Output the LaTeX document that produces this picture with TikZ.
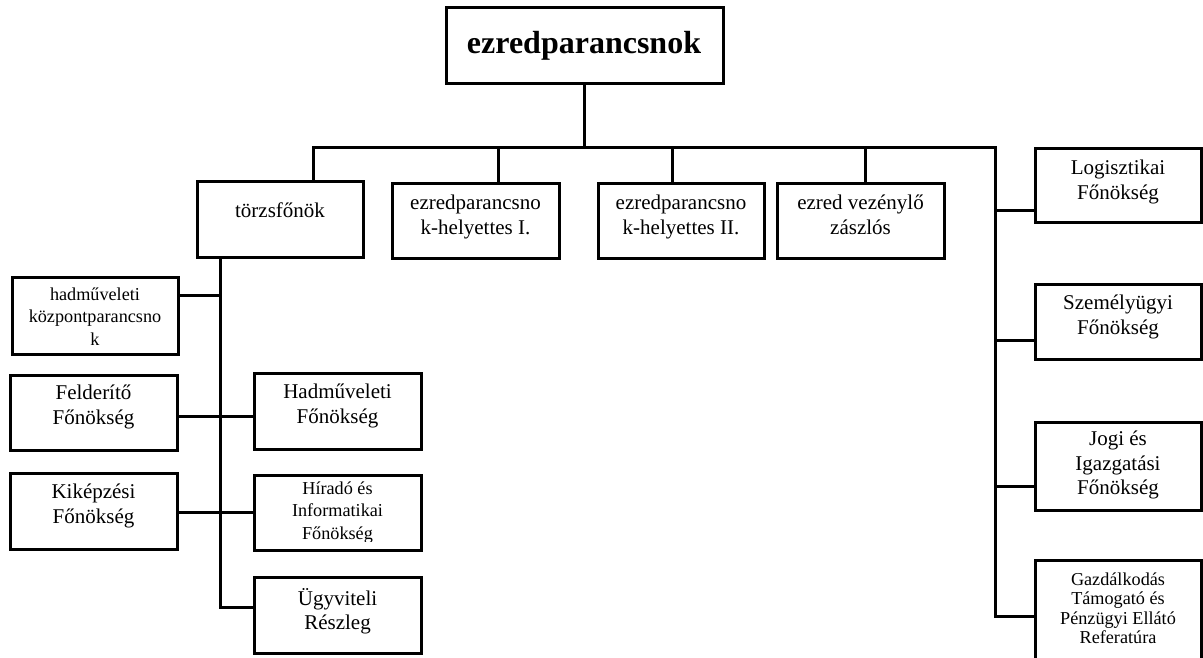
\documentclass[tikz,border=0pt]{standalone}
\usepackage{fontspec}
\setmainfont{Liberation Serif}
\begin{document}
\begin{tikzpicture}[x=1pt,y=-1pt,
  box/.style={draw, line width=3pt, inner sep=0pt, rectangle},
  conn/.style={draw, line width=3pt, line join=miter},
  txt/.style={inner sep=0pt, align=center, anchor=north, font=\fontsize{21}{24.5}\selectfont, execute at begin node=\strut},
  stxt/.style={inner sep=0pt, align=center, anchor=north, font=\fontsize{18.2}{22.5}\selectfont, execute at begin node=\strut},
  gtxt/.style={inner sep=0pt, align=center, anchor=north, font=\fontsize{18.2}{19.5}\selectfont, execute at begin node=\strut},
  onetxt/.style={inner sep=0pt, anchor=base, font=\fontsize{21}{24.5}\selectfont},
  toptxt/.style={inner sep=0pt, anchor=base, font=\fontsize{32}{38}\selectfont\bfseries}]
\useasboundingbox (0,0) rectangle (1203,657);

% boxes
\node[box, minimum width=277pt, minimum height=76pt] (top) at (584.5,45) {};
\node[box, minimum width=166pt, minimum height=76pt] (tf) at (280,219) {};
\node[box, minimum width=167pt, minimum height=75pt] (h1) at (475.5,220.5) {};
\node[box, minimum width=166pt, minimum height=75pt] (h2) at (681,220.5) {};
\node[box, minimum width=167pt, minimum height=75pt] (vz) at (860.5,220.5) {};
\node[box, minimum width=166pt, minimum height=74pt] (lg) at (1118,185) {};
\node[box, minimum width=166pt, minimum height=75pt] (sz) at (1118,321.5) {};
\node[box, minimum width=166pt, minimum height=88pt] (jg) at (1118,466) {};
\node[box, minimum width=166pt, minimum height=110pt] (gz) at (1118,615) {};
\node[box, minimum width=166pt, minimum height=77pt] (hk) at (95,315.5) {};
\node[box, minimum width=167pt, minimum height=75pt] (fd) at (93.5,412.5) {};
\node[box, minimum width=167pt, minimum height=76pt] (hf) at (337.5,411) {};
\node[box, minimum width=167pt, minimum height=76pt] (kk) at (93.5,511) {};
\node[box, minimum width=167pt, minimum height=75pt] (hi) at (337.5,512.5) {};
\node[box, minimum width=167pt, minimum height=76pt] (uv) at (337.5,615) {};

% texts
\node[toptxt] (topT) at (584,53) {ezredparancsnok};
\node[onetxt] (tfT) at (280,217) {törzsfőnök};
\node[txt] (h1T) at (475.5,194.85) {ezredparancsno\\k-helyettes I.};
\node[txt] (h2T) at (681,194.85) {ezredparancsno\\k-helyettes II.};
\node[txt] (vzT) at (860.5,194.85) {ezred vezénylő\\zászlós};
\node[txt] (lgT) at (1118,159.85) {Logisztikai\\Főnökség};
\node[txt] (szT) at (1118,294.85) {Személyügyi\\Főnökség};
\node[txt] (jgT) at (1118,430.85) {Jogi és\\Igazgatási\\Főnökség};
\node[gtxt] (gzT) at (1118,572.35) {Gazdálkodás\\Támogató és\\Pénzügyi Ellátó\\Referatúra};
\node[stxt] (hkT) at (95,287.25) {hadműveleti\\központparancsno\\k};
\node[txt] (fdT) at (93.5,384.85) {Felderítő\\Főnökség};
\node[txt] (hfT) at (337.5,383.85) {Hadműveleti\\Főnökség};
\node[txt] (kkT) at (93.5,483.85) {Kiképzési\\Főnökség};
\begin{scope}
\clip (254,475) rectangle (421,541);
\node[stxt] (hiT) at (337.5,481.25) {Híradó és\\Informatikai\\Főnökség};
\end{scope}
\node[txt] (uvT) at (337.5,587.85) {Ügyviteli\\Részleg};

% connector coordinates
\coordinate (barL) at (313,147.5);
\coordinate (barR) at (995,147.5);
\coordinate (s1) at (498,147.5);
\coordinate (s2) at (672,147.5);
\coordinate (s3) at (865,147.5);
\coordinate (ry1) at (995,210);
\coordinate (ry2) at (995,340);
\coordinate (ry3) at (995,486);
\coordinate (ry4) at (995,616);
\coordinate (lv) at (220,607);
\coordinate (l1) at (220,295);
\coordinate (l2) at (220,416);
\coordinate (l3) at (220,512);

% connectors
\draw[conn] (top.south) -- (top.south |- barL);
\draw[conn] (barL |- tf.north) -- (barL) -- (barR) -- (ry4) -- (gz.west |- ry4);
\draw[conn] (s1) -- (s1 |- h1.north);
\draw[conn] (s2) -- (s2 |- h2.north);
\draw[conn] (s3) -- (s3 |- vz.north);
\draw[conn] (ry1) -- (lg.west |- ry1);
\draw[conn] (ry2) -- (sz.west |- ry2);
\draw[conn] (ry3) -- (jg.west |- ry3);
\draw[conn] (tf.south -| lv) -- (lv) -- (uv.west |- lv);
\draw[conn] (hk.east |- l1) -- (l1);
\draw[conn] (fd.east |- l2) -- (hf.west |- l2);
\draw[conn] (kk.east |- l3) -- (hi.west |- l3);
\end{tikzpicture}
\end{document}
